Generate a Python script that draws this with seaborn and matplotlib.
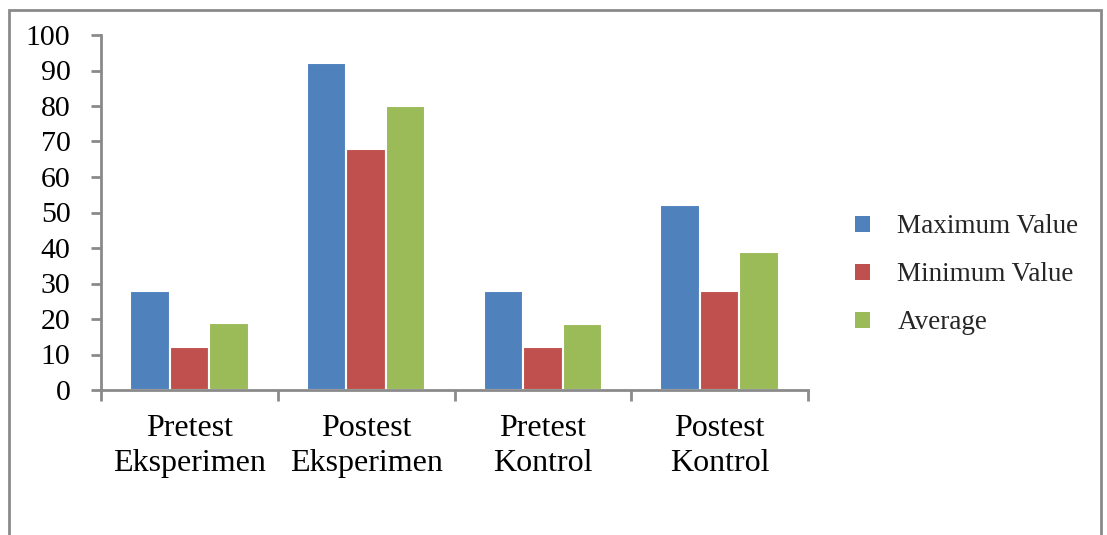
import matplotlib
matplotlib.use("Agg")
import matplotlib.pyplot as plt
import seaborn as sns
import pandas as pd
from matplotlib.patches import Rectangle, Patch

categories = ["Pretest\nEksperimen", "Postest\nEksperimen", "Pretest\nKontrol", "Postest\nKontrol"]
series_names = ["Maximum Value", "Minimum Value", "Average"]
maximum_values = [28, 92, 28, 52]
minimum_values = [12, 68, 12, 28]
average_values = [19, 80, 18.7, 39]
y_ticks = [0, 10, 20, 30, 40, 50, 60, 70, 80, 90, 100]
colors = ["#4F81BD", "#C0504D", "#9BBB59"]

rows = []
for name, vals in zip(series_names, [maximum_values, minimum_values, average_values]):
    for c, v in zip(categories, vals):
        rows.append({"category": c, "series": name, "value": v})
df = pd.DataFrame(rows)

sns.set_style("white")
plt.rcParams["font.family"] = ["Liberation Serif", "DejaVu Serif"]

fig = plt.figure(figsize=(11.07, 5.35), dpi=100)
ax = fig.add_axes([101/1107, 1-390/535, (808-101)/1107, (390-35)/535])

sns.barplot(data=df, x="category", y="value", hue="series", order=categories,
            hue_order=series_names, palette=colors, width=0.67, ax=ax,
            edgecolor="white", linewidth=1.5, saturation=1, legend=False)

ax.set_xlim(-0.5, 3.5)
ax.set_ylim(0, 100)
ax.set_yticks(y_ticks)
ax.set_yticklabels([str(t) for t in y_ticks], fontsize=21.5)
ax.set_xticks(range(len(categories)))
ax.set_xticklabels(categories, fontsize=23, linespacing=1.3)
ax.set_xticks([-0.5, 0.5, 1.5, 2.5, 3.5], minor=True)
ax.tick_params(axis="x", which="major", bottom=True, length=0, pad=17, colors="black")
ax.tick_params(axis="x", which="minor", bottom=True, length=8, width=2, color="#8a8a8a", direction="out")
ax.tick_params(axis="y", which="major", left=True, length=7, width=2, color="#8a8a8a",
               labelcolor="black", direction="out", pad=15)
ax.set_xlabel("")
ax.set_ylabel("")
for s in ["top", "right"]:
    ax.spines[s].set_visible(False)
for s in ["left", "bottom"]:
    ax.spines[s].set_color("#8a8a8a")
    ax.spines[s].set_linewidth(2)

handles = [Patch(facecolor=c, edgecolor="none") for c in colors]
fig.legend(handles, series_names, loc="upper left", bbox_to_anchor=(831/1107, 1-190/535),
           frameon=False, fontsize=19.5, handlelength=0.55, handleheight=0.55,
           handletextpad=1.0, labelspacing=0.85)

fig.add_artist(Rectangle((9/1107, -0.05), (1101-9)/1107, 1.05 - 10/535,
                         transform=fig.transFigure, fill=False,
                         edgecolor="#8a8a8a", linewidth=2))

fig.savefig("out.png", dpi=100, facecolor="white")
